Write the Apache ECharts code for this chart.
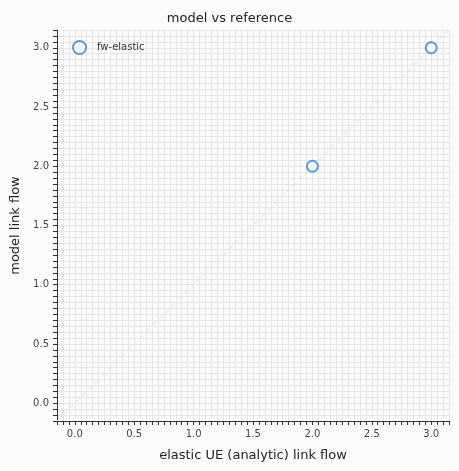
<!DOCTYPE html>
<html>
<head>
<meta charset="utf-8">
<script src="https://cdn.jsdelivr.net/npm/echarts@6/dist/echarts.min.js"></script>
<style>
  html, body { margin: 0; padding: 0; background: #fcfcfa; }
  #chart-main { width: 459px; height: 471px; }
</style>
</head>
<body>
<div id="chart-main"></div>
<script>
    // data
    var referenceFlow = [2.0, 3.0];
    var modelFlow = [2.0, 3.0];
    var seriesName = 'fw-elastic';
    var tickValues = [0, 0.5, 1.0, 1.5, 2.0, 2.5, 3.0];
    var diagonal = [[-0.15, -0.15], [3.15, 3.15]];

    var points = referenceFlow.map(function (x, i) { return [x, modelFlow[i]]; });
    var fontFamily = 'DejaVu Sans';

    // axis runs from -0.15 in 0.05 steps; only the 0.5 multiples are shown
    function isMajor(v) {
        return tickValues.some(function (t) { return Math.abs(t - v) < 1e-6; });
    }
    function majorIndex(index, value) {
        return isMajor(-0.15 + index * 0.05);
    }

    var axisCommon = {
        type: 'value',
        min: -0.15,
        max: 3.15,
        interval: 0.05,
        nameLocation: 'middle',
        nameTextStyle: {color: '#222', fontSize: 13, fontFamily: fontFamily},
        axisLine: {show: true, onZero: false, lineStyle: {color: '#333', width: 1}},
        axisTick: {show: true, length: 4, interval: majorIndex, lineStyle: {color: '#333'}},
        splitLine: {show: true, interval: majorIndex, lineStyle: {color: '#e6e6e6'}},
        axisLabel: {
            color: '#444', fontSize: 10, fontFamily: fontFamily,
            interval: majorIndex,
            formatter: function (v) { return isMajor(v) ? (Math.round(v * 10) / 10).toFixed(1) : ''; }
        }
    };

    var option = {
        backgroundColor: '#fcfcfa',
        animation: false,
        title: {
            text: 'model vs reference', left: 'center', top: 7,
            textStyle: {color: '#222', fontSize: 13, fontWeight: 'normal', fontFamily: fontFamily}
        },
        legend: {
            left: 67, top: 35, itemWidth: 13, itemHeight: 13, itemGap: 6,
            data: [{name: seriesName, itemStyle: {borderWidth: 2}}],
            textStyle: {color: '#333', fontSize: 10, fontFamily: fontFamily, padding: [0, 0, 0, 6]}
        },
        grid: {left: 57, right: 10, top: 30, bottom: 50},
        xAxis: Object.assign({}, axisCommon, {name: 'elastic UE (analytic) link flow', nameGap: 28}),
        yAxis: Object.assign({}, axisCommon, {name: 'model link flow', nameGap: 34}),
        series: [
            {
                type: 'line',
                data: diagonal,
                showSymbol: false,
                silent: true,
                lineStyle: {color: '#dddddd', type: [5, 4], width: 1},
                z: 1
            },
            {
                name: seriesName,
                type: 'scatter',
                data: points,
                symbol: 'circle',
                symbolSize: 11,
                itemStyle: {color: '#ffffff', borderColor: '#2f7fd8', borderWidth: 2},
                z: 3
            }
        ]
    };

    var myChart = echarts.init(document.getElementById('chart-main'));
    myChart.setOption(option);
</script>
</body>
</html>
